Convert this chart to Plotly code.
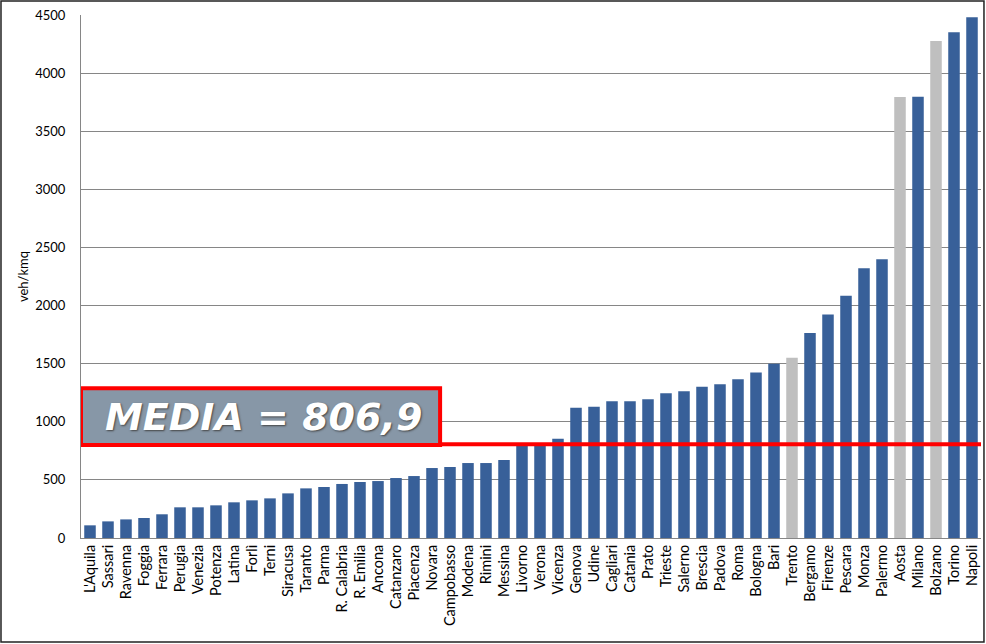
import plotly.graph_objects as go

cities = ["L'Aquila", "Sassari", "Ravenna", "Foggia", "Ferrara", "Perugia", "Venezia", "Potenza",
          "Latina", "Forlì", "Terni", "Siracusa", "Taranto", "Parma", "R. Calabria", "R. Emilia",
          "Ancona", "Catanzaro", "Piacenza", "Novara", "Campobasso", "Modena", "Rimini", "Messina",
          "Livorno", "Verona", "Vicenza", "Genova", "Udine", "Cagliari", "Catania", "Prato",
          "Trieste", "Salerno", "Brescia", "Padova", "Roma", "Bologna", "Bari", "Trento",
          "Bergamo", "Firenze", "Pescara", "Monza", "Palermo", "Aosta", "Milano", "Bolzano",
          "Torino", "Napoli"]
values = [109, 143, 160, 172, 204, 264, 264, 281,
          307, 324, 341, 384, 427, 439, 465, 482,
          490, 516, 533, 602, 611, 645, 645, 671,
          805, 808, 855, 1121, 1130, 1176, 1176, 1193,
          1245, 1262, 1302, 1322, 1365, 1423, 1500, 1551,
          1764, 1922, 2085, 2320, 2398, 3795, 3797, 4276,
          4351, 4480]
grey_cities = ["Trento", "Aosta", "Bolzano"]
media = 806.9
media_label = "MEDIA = 806,9"
y_ticks = [0, 500, 1000, 1500, 2000, 2500, 3000, 3500, 4000, 4500]

BLUE = "#386099"
GREY = "#BFBFBF"
colors = [GREY if c in grey_cities else BLUE for c in cities]

fig = go.Figure()
fig.add_trace(go.Bar(x=cities, y=values, marker=dict(color=colors, line=dict(width=0)),
                     width=0.64, showlegend=False))

n = len(cities)
shapes = [
    # mean line
    dict(type="line", xref="paper", yref="y", x0=0, x1=1, y0=media, y1=media,
         line=dict(color="#FF0000", width=4), layer="above"),
    # label box
    dict(type="rect", xref="x", yref="y", x0=-0.5, x1=19.45, y0=800, y1=1288,
         fillcolor="#8797A7", line=dict(color="#FF0000", width=4), layer="above"),
    # outer border
    dict(type="rect", xref="paper", yref="paper", x0=-0.0889, x1=1.0033, y0=-0.1989, y1=1.0268,
         line=dict(color="#222222", width=1.5), fillcolor="rgba(0,0,0,0)", layer="above"),
]

fig.add_annotation(x=9.65, y=1044, xref="x", yref="y", text="<b><i>" + media_label + "</i></b>",
                   showarrow=False,
                   font=dict(family="DejaVu Sans", size=38, color="white", shadow="1px 1px 2px #444"))

fig.update_layout(
    width=986, height=644,
    margin=dict(l=81, r=5, t=15, b=106),
    paper_bgcolor="white", plot_bgcolor="white",
    shapes=shapes,
    font=dict(family="Lato", size=12, color="black"),
)
fig.update_xaxes(type="category", tickangle=-90, tickfont=dict(size=14.5, family="Lato"),
                 showline=True, linecolor="#868686", linewidth=1, showgrid=False, ticks="",
                 range=[-0.5, n - 0.5])
fig.update_yaxes(range=[0, 4500], tickvals=y_ticks, showgrid=True, gridcolor="#868686", gridwidth=1,
                 showline=True, linecolor="#868686", linewidth=1, zeroline=False,
                 tickfont=dict(size=13, family="Lato"), ticklabelstandoff=12,
                 title=dict(text="veh/kmq", font=dict(size=13, family="Lato"), standoff=3))

fig.write_html("out.html", config={"displayModeBar": False},
               post_script="document.body.style.margin='0';document.body.style.padding='0';")
